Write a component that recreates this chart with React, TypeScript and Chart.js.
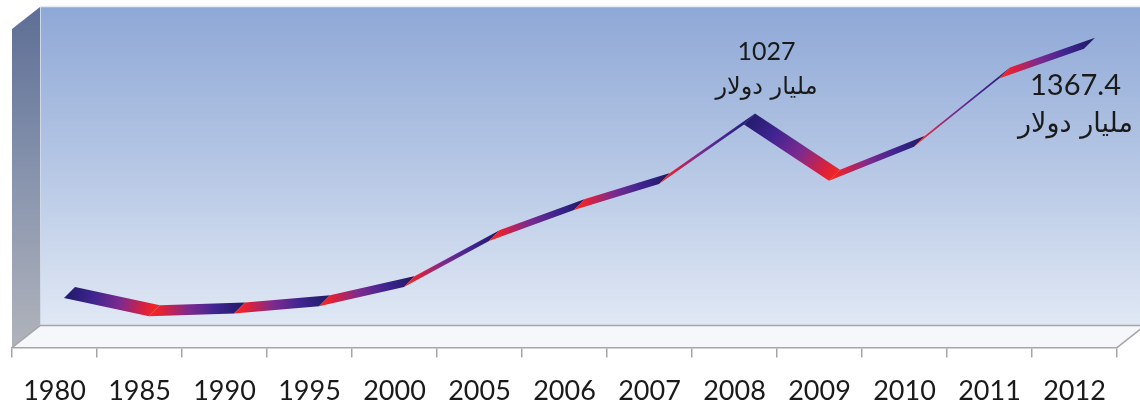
import { useEffect, useRef } from "react";
import { Chart, registerables } from "chart.js";

Chart.register(...registerables);

// Years along the floor and the value for each year (billion dollars)
const years = ["1980", "1985", "1990", "1995", "2000", "2005", "2006", "2007", "2008", "2009", "2010", "2011", "2012"];
const values = [247, 166, 178, 211, 297, 504, 643, 760, 1027, 774, 927, 1233, 1367.4];
const unitText = "مليار دولار";
const labelledYears = ["2008", "2012"];
const yMin = 0;
const yMax = 1530;

// Depth of the 3D box (floor / side wall), in pixels
const WALL_DX = 28;
const WALL_DY = 22;
// The series sits part way back along the floor
const SERIES_SHIFT_X = 15;
// Thickness of the ribbon along the depth direction
const RIBBON_DX = -11;
const RIBBON_DY = 11;

const wallsPlugin = {
  id: "walls3d",
  beforeDraw(chart: any) {
    const { ctx, chartArea: ca } = chart;
    const fl = ca.left;
    const fb = ca.bottom;
    const bl = fl + WALL_DX;
    const bb = fb - WALL_DY;
    const top = ca.top;
    const right = chart.width;

    ctx.save();
    ctx.fillStyle = "#ffffff";
    ctx.fillRect(0, 0, chart.width, chart.height);

    // back wall
    const g = ctx.createLinearGradient(0, top, 0, bb);
    g.addColorStop(0, "#8ea8d6");
    g.addColorStop(0.5, "#b6c7e5");
    g.addColorStop(1, "#e0e8f4");
    ctx.fillStyle = g;
    ctx.fillRect(bl, top, right - bl, bb - top);
    ctx.strokeStyle = "#e4ebf5";
    ctx.lineWidth = 1.5;
    ctx.beginPath();
    ctx.moveTo(bl, top - 0.5);
    ctx.lineTo(right, top - 0.5);
    ctx.stroke();

    // side wall
    const sg = ctx.createLinearGradient(0, top, 0, fb);
    sg.addColorStop(0, "#5d6e95");
    sg.addColorStop(0.5, "#8894ae");
    sg.addColorStop(1, "#b0b3bb");
    ctx.fillStyle = sg;
    ctx.beginPath();
    ctx.moveTo(bl, top);
    ctx.lineTo(bl, bb);
    ctx.lineTo(fl, fb);
    ctx.lineTo(fl, top + WALL_DY);
    ctx.closePath();
    ctx.fill();
    ctx.strokeStyle = "#d0d8e6";
    ctx.lineWidth = 1;
    ctx.beginPath();
    ctx.moveTo(bl + 0.5, top);
    ctx.lineTo(bl + 0.5, bb);
    ctx.stroke();

    // floor
    ctx.fillStyle = "#f5f7fa";
    ctx.beginPath();
    ctx.moveTo(bl, bb);
    ctx.lineTo(ca.right + WALL_DX, bb);
    ctx.lineTo(ca.right, fb);
    ctx.lineTo(fl, fb);
    ctx.closePath();
    ctx.fill();
    ctx.strokeStyle = "#a6a6a6";
    ctx.lineWidth = 1.5;
    ctx.beginPath();
    ctx.moveTo(bl, bb);
    ctx.lineTo(right, bb);
    ctx.moveTo(fl, fb);
    ctx.lineTo(bl, bb);
    ctx.moveTo(ca.right, fb);
    ctx.lineTo(ca.right + WALL_DX, bb);
    ctx.stroke();
    ctx.restore();
  },
};

const ribbonPlugin = {
  id: "ribbon3d",
  afterDatasetsDraw(chart: any) {
    const { ctx } = chart;
    const pts = chart.getDatasetMeta(0).data.map((p: any) => ({ x: p.x + SERIES_SHIFT_X, y: p.y }));
    const hx = RIBBON_DX / 2;
    const hy = RIBBON_DY / 2;
    ctx.save();
    for (let i = 0; i < pts.length - 1; i++) {
      const a = pts[i];
      const b = pts[i + 1];
      const quad = [
        [a.x - hx, a.y - hy],
        [b.x - hx, b.y - hy],
        [b.x + hx, b.y + hy],
        [a.x + hx, a.y + hy],
      ];
      // shading runs along the segment: red at its lower end, navy at its upper end
      const low = a.y >= b.y ? a : b;
      const high = a.y >= b.y ? b : a;
      const g = ctx.createLinearGradient(low.x, low.y, high.x, high.y);
      g.addColorStop(0, "#f22626");
      g.addColorStop(0.12, "#d8213f");
      g.addColorStop(0.4, "#7d2a8e");
      g.addColorStop(0.72, "#3f2490");
      g.addColorStop(1, "#241c6e");
      ctx.fillStyle = g;
      ctx.beginPath();
      ctx.moveTo(quad[0][0], quad[0][1]);
      for (let k = 1; k < 4; k++) ctx.lineTo(quad[k][0], quad[k][1]);
      ctx.closePath();
      ctx.fill();
    }
    ctx.restore();
  },
};

const valueLabelPlugin = {
  id: "valueLabels",
  afterDatasetsDraw(chart: any) {
    const { ctx } = chart;
    const meta = chart.getDatasetMeta(0);
    const placement: Record<string, { dx: number; numDy: number; unitDy: number; numSize: number; unitSize: number }> = {
      "2008": { dx: 17, numDy: -67, unitDy: -31, numSize: 25, unitSize: 24 },
      "2012": { dx: -14, numDy: 42, unitDy: 82, numSize: 29, unitSize: 27 },
    };
    ctx.save();
    ctx.fillStyle = "#1a1a1a";
    ctx.textAlign = "center";
    ctx.textBaseline = "middle";
    labelledYears.forEach((yr) => {
      const i = years.indexOf(yr);
      const p = meta.data[i];
      const pl = placement[yr];
      const x = p.x + SERIES_SHIFT_X + pl.dx;
      ctx.font = `${pl.numSize}px Lato`;
      ctx.fillText(String(values[i]), x, p.y + pl.numDy);
      ctx.font = `${pl.unitSize}px "DejaVu Sans"`;
      ctx.fillText(unitText, x, p.y + pl.unitDy);
    });
    ctx.restore();
  },
};

export default function App() {
  const ref = useRef<HTMLCanvasElement | null>(null);

  useEffect(() => {
    if (!ref.current) return;
    const chart = new Chart(ref.current, {
      type: "line",
      data: {
        labels: years,
        datasets: [
          {
            data: values,
            borderColor: "rgba(0,0,0,0)",
            borderWidth: 0,
            pointRadius: 0,
            fill: false,
          },
        ],
      },
      options: {
        responsive: false,
        animation: false,
        layout: { padding: { left: 12, right: 23, top: 7, bottom: 0 } },
        plugins: { legend: { display: false }, tooltip: { enabled: false } },
        scales: {
          x: {
            offset: true,
            grid: {
              offset: true,
              drawOnChartArea: false,
              drawTicks: true,
              tickLength: 10,
              color: "#a6a6a6",
              lineWidth: 1.5,
            },
            border: { display: true, color: "#a6a6a6", width: 1.5 },
            ticks: {
              font: { family: "Lato", size: 27 },
              color: "#1a1a1a",
              padding: 17,
              maxRotation: 0,
              autoSkip: false,
            },
          },
          y: { display: false, min: yMin, max: yMax },
        },
      },
      plugins: [wallsPlugin, ribbonPlugin, valueLabelPlugin],
    });
    return () => chart.destroy();
  }, []);

  // the canvas runs a little past the visible frame so the axis labels sit low under the floor
  return (
    <div style={{ position: "fixed", left: 0, top: 0, width: 1140, height: 410, overflow: "hidden", background: "#fff" }}>
      <canvas ref={ref} width={1140} height={424} style={{ display: "block" }} />
    </div>
  );
}
